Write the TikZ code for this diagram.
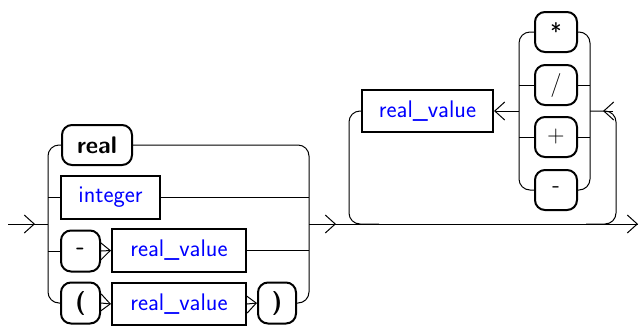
\documentclass[tikz,border=0pt]{standalone}
\usetikzlibrary{arrows.meta,calc}
\begin{document}
\begin{tikzpicture}[x=1pt,y=-1pt,line width=1pt,
  box/.style={draw,line width=2pt,inner sep=0pt,
    font=\sffamily\fontsize{24}{28}\selectfont},
  term/.style={box,rounded corners=10pt,minimum height=40pt},
  nonterm/.style={box,text=blue,minimum height=42pt},
  tip/.style={-{Straight Barb[length=10pt,width=18pt]}},
  rail/.style={rounded corners=11pt}]
\useasboundingbox (0,0) rectangle (639,325);

% alternatives of the first group
\node[term,minimum width=70pt] (kwreal) at (97,145) {\bfseries real};
\node[nonterm,minimum width=99pt,minimum height=43pt] (integer) at (110.5,197) {integer};
\node[term,minimum width=39pt,minimum height=41pt] (minus) at (80.5,251) {\bfseries -};
\node[nonterm,minimum width=134pt,minimum height=43pt] (rv1) at (179,250.5) {real\_value};
\node[term,minimum width=39pt,minimum height=41pt] (lparen) at (80.5,303) {\bfseries (};
\node[nonterm,minimum width=134pt] (rv2) at (179,304) {real\_value};
\node[term,minimum width=38pt,minimum height=41pt] (rparen) at (277,303) {\bfseries )};

% repeated part
\node[nonterm,minimum width=131pt] (rv3) at (427.5,111) {real\_value};
\node[term,minimum width=42pt] (opmul) at (556,32) {*};
\node[term,minimum width=42pt] (opdiv) at (556,85) {/};
\node[term,minimum width=42pt] (opadd) at (556,137) {+};
\node[term,minimum width=42pt] (opsub) at (556,190) {-};

% junction points on the rails
\coordinate (in) at (8,224);
\coordinate (a1) at (35,224);
\coordinate (lb) at (48,224);
\coordinate (rb) at (309,224);
\coordinate (a2) at (336,224);
\coordinate (ll) at (349,224);
\coordinate (lr) at (616,224);
\coordinate (out) at (638,224);
\coordinate (opl) at (519,111);
\coordinate (opr) at (590,111);
\coordinate (a3) at (603,111);

% main line
\draw (in) -- (lb);
\draw[tip] (in) -- (a1);
\draw (rb) -- (out);
\draw[tip] (rb) -- (a2);
\draw[tip] ($(out)+(-20,0)$) -- (out);

% first group: left and right rails
\draw[rail] (kwreal.west) -| (lb) |- (lparen.west);
\draw (lb |- integer.west) -- (integer.west);
\draw (lb |- minus.west) -- (minus.west);
\draw[rail] (kwreal.east) -| (rb) |- (rparen.east);
\draw (integer.east) -- (integer.east -| rb);
\draw (rv1.east) -- (rv1.east -| rb);

% sequences inside the first group
\draw[tip] (minus.east) -- (rv1.west);
\draw[tip] (lparen.east) -- (rv2.west);
\draw[tip] (rv2.east) -- (rparen.west);

% loop back over the operators
\draw[rail] (rv3.west) -| (ll) -- ($(ll)+(30,0)$);
\draw[rail] ($(lr)+(-30,0)$) -- (lr) |- (opr);
\draw[tip] ($(a3)+(10,0)$) -- (a3);
\draw[rail] (opmul.west) -| (opl) |- (opsub.west);
\draw (opl |- opdiv.west) -- (opdiv.west);
\draw (opl |- opadd.west) -- (opadd.west);
\draw[tip] (opl) -- (rv3.east);
\draw[rail] (opmul.east) -| (opr) |- (opsub.east);
\draw (opdiv.east) -- (opdiv.east -| opr);
\draw (opadd.east) -- (opadd.east -| opr);
\end{tikzpicture}
\end{document}
